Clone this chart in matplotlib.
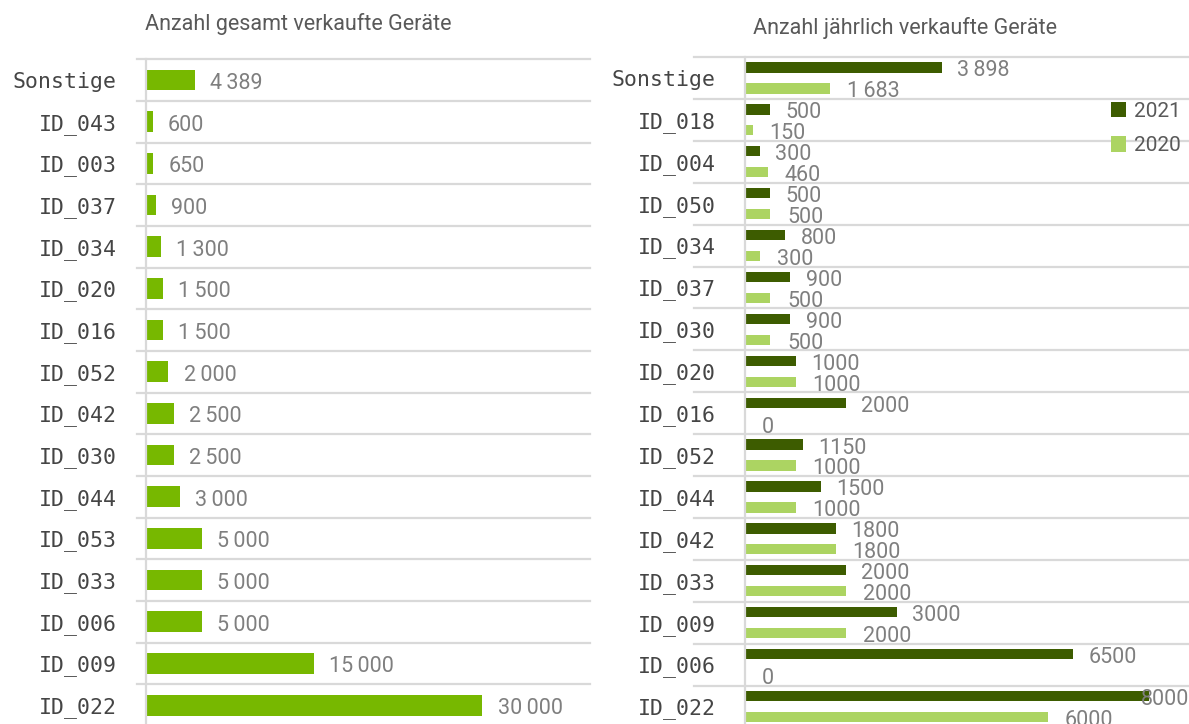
import matplotlib
matplotlib.use("Agg")
import matplotlib.pyplot as plt
import numpy as np

# ---- data ----
left_categories = ["Sonstige", "ID_043", "ID_003", "ID_037", "ID_034", "ID_020", "ID_016", "ID_052",
                   "ID_042", "ID_030", "ID_044", "ID_053", "ID_033", "ID_006", "ID_009", "ID_022"]
left_values = [4389, 600, 650, 900, 1300, 1500, 1500, 2000, 2500, 2500, 3000, 5000, 5000, 5000, 15000, 30000]

right_categories = ["Sonstige", "ID_018", "ID_004", "ID_050", "ID_034", "ID_037", "ID_030", "ID_020",
                    "ID_016", "ID_052", "ID_044", "ID_042", "ID_033", "ID_009", "ID_006", "ID_022"]
values_2021 = [3898, 500, 300, 500, 800, 900, 900, 1000, 2000, 1150, 1500, 1800, 2000, 3000, 6500, 8000]
values_2020 = [1683, 150, 460, 500, 300, 500, 500, 1000, 0, 1000, 1000, 1800, 2000, 2000, 0, 6000]

left_title = "Anzahl gesamt verkaufte Geräte"
right_title = "Anzahl jährlich verkaufte Geräte"
series_labels = ["2021", "2020"]

# ---- style ----
W, H = 1189, 724
C_TOTAL = "#77b800"
C_2021 = "#3d5c00"
C_2020 = "#acd462"
C_GRID = "#d9d9d9"
C_VAL = "#7f7f7f"
C_TICK = "#454545"
C_TITLE = "#595959"
VAL_FONT = "Roboto"
TICK_FONT = "DejaVu Sans Mono"
VAL_SIZE = 15.5


def fmt_space(v):
    return f"{v:,}".replace(",", "\u2009")


fig = plt.figure(figsize=(W / 100, H / 100), dpi=100)


def px_axes(left, top, width, height):
    return fig.add_axes([left / W, 1 - (top + height) / H, width / W, height / H])


def style_axes(ax, cats, grid_ext):
    n = len(cats)
    ax.set_ylim(n - 0.5, -0.5)
    ax.set_yticks(np.arange(n))
    ax.set_yticklabels(cats, fontfamily=TICK_FONT, fontsize=15.5, color=C_TICK)
    ax.tick_params(axis="y", length=0, pad=21)
    ax.set_xticks([])
    for s in ["top", "right", "bottom"]:
        ax.spines[s].set_visible(False)
    ax.spines["left"].set_color(C_GRID)
    ax.spines["left"].set_linewidth(1.6)
    ax.spines["left"].set_zorder(3)
    for b in np.arange(n + 1) - 0.5:
        ax.axhline(b, xmin=-grid_ext, xmax=1, color=C_GRID, lw=1.6, clip_on=False, zorder=0)


def value_label(ax, v, y, text, dx=11):
    xmax = ax.get_xlim()[1]
    # if the label would overflow the plot area, pin it to the right edge
    if v > 0.9 * xmax:
        ax.annotate(text, (xmax, y), xytext=(0, -2.5), textcoords="offset points",
                    va="center", ha="right", fontfamily=VAL_FONT, fontsize=VAL_SIZE, color=C_VAL,
                    annotation_clip=False)
    else:
        ax.annotate(text, (v, y), xytext=(dx, -2.5), textcoords="offset points",
                    va="center", ha="left", fontfamily=VAL_FONT, fontsize=VAL_SIZE, color=C_VAL,
                    annotation_clip=False)


# ---- left chart ----
ax1 = px_axes(146, 59.2, 444, 16 * 41.67)
y1 = np.arange(len(left_categories))
ax1.barh(y1, left_values, height=0.5, color=C_TOTAL, zorder=2)
ax1.set_xlim(0, 39600)
style_axes(ax1, left_categories, 0.02)
for yi, v in zip(y1, left_values):
    value_label(ax1, v, yi, fmt_space(v))
fig.text(145 / W, 1 - 24 / H, left_title, ha="left", va="center",
         fontfamily=VAL_FONT, fontsize=15.5, color=C_TITLE)

# ---- right chart ----
ax2 = px_axes(745, 57, 444, 16 * 41.9)
y2 = np.arange(len(right_categories))
b21 = ax2.barh(y2 - 0.25, values_2021, height=0.245, color=C_2021, zorder=2, label=series_labels[0])
b20 = ax2.barh(y2 + 0.25, values_2020, height=0.245, color=C_2020, zorder=2, label=series_labels[1])
ax2.set_xlim(0, 8790)
style_axes(ax2, right_categories, 0.115)
for i, (v21, v20) in enumerate(zip(values_2021, values_2020)):
    lab21 = fmt_space(v21) if i == 0 else str(v21)
    lab20 = fmt_space(v20) if i == 0 else str(v20)
    value_label(ax2, v21, i - 0.25, lab21)
    value_label(ax2, v20, i + 0.25, lab20, dx=12)
fig.text(753 / W, 1 - 28 / H, right_title, ha="left", va="center",
         fontfamily=VAL_FONT, fontsize=15.5, color=C_TITLE)

leg = ax2.legend(handles=[b21, b20], labels=series_labels, loc="upper left",
                 bbox_to_anchor=(1096 / W, 1 - 87 / H), bbox_transform=fig.transFigure,
                 frameon=False, handlelength=0.75, handleheight=0.75, handletextpad=0.35,
                 labelspacing=0.75, borderpad=0.2,
                 prop={"family": VAL_FONT, "size": 15})
for t in leg.get_texts():
    t.set_color(C_TITLE)

fig.savefig("out.png", dpi=100)
